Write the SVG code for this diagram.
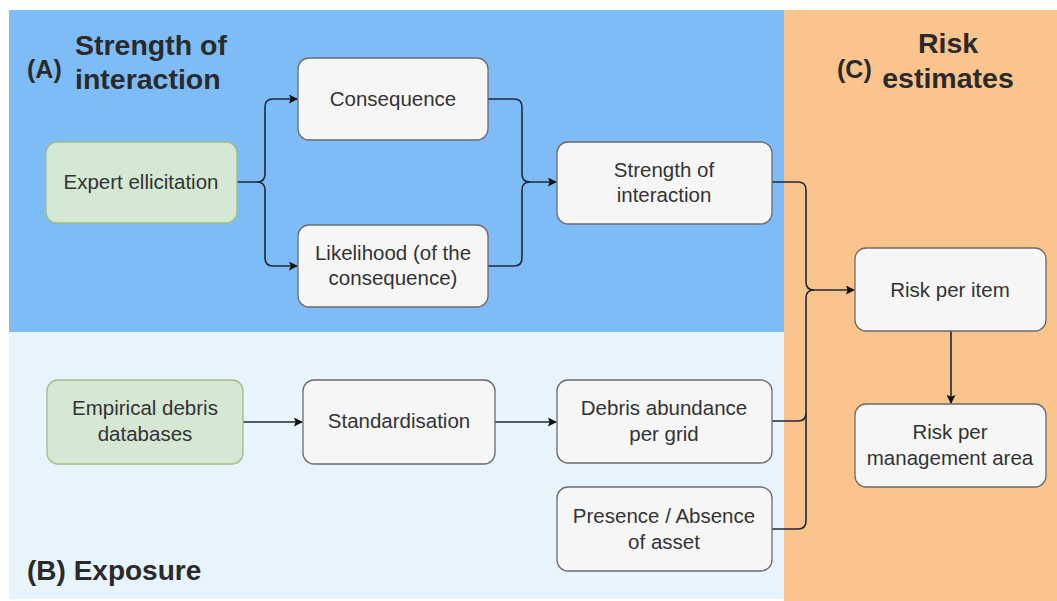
<svg xmlns="http://www.w3.org/2000/svg" width="1057" height="601" viewBox="0 0 1057 601">
<defs>
<style>
.box{fill:#f6f6f6;stroke:#6b6b6b;stroke-width:1.3}
.grn{fill:#d5e8d4;stroke:#9cbf88;stroke-width:1.3}
.t{font-family:"Liberation Sans",Arial,sans-serif;font-size:20.5px;fill:#333;text-anchor:middle}
.h{font-family:"Liberation Sans",Arial,sans-serif;font-weight:bold;fill:#2a2a2a}
.c{fill:none;stroke:#1e2a36;stroke-width:1.6}
</style>
<marker id="ar" viewBox="0 0 10 10" refX="9" refY="5" markerWidth="9" markerHeight="9" markerUnits="userSpaceOnUse" orient="auto">
<path d="M0,0 L10,5 L0,10 L2,5 Z" fill="#111"/>
</marker>
</defs>
<rect width="1057" height="601" fill="#ffffff"/>
<g id="panelA"><rect x="9" y="10" width="775" height="322" fill="#7ebcf8"/></g>
<g id="panelB"><rect x="9" y="332" width="775" height="267" fill="#e7f3fd"/></g>
<g id="panelC"><rect x="784" y="10" width="273" height="591" fill="#fbc48d"/></g>
<g id="titles">
<text class="h" x="27" y="78" font-size="25">(A)</text>
<text class="h" x="75" y="55" font-size="28.5">Strength of</text>
<text class="h" x="75" y="89" font-size="28.5">interaction</text>
<text class="h" x="27" y="580" font-size="28">(B) Exposure</text>
<text class="h" x="837" y="78" font-size="25">(C)</text>
<text class="h" x="948" y="53" font-size="28.5" text-anchor="middle">Risk</text>
<text class="h" x="948" y="88" font-size="28.5" text-anchor="middle">estimates</text>
</g>
<g id="connectors">
<path class="c" d="M237,182 H257 Q265,182 265,174 V107 Q265,99 273,99 H297" marker-end="url(#ar)"/>
<path class="c" d="M257,182 Q265,182 265,190 V258 Q265,266 273,266 H297" marker-end="url(#ar)"/>
<path class="c" d="M488,99 H514 Q522,99 522,107 V174 Q522,182 530,182 H556" marker-end="url(#ar)"/>
<path class="c" d="M488,266 H514 Q522,266 522,258 V190 Q522,182 530,182"/>
<path class="c" d="M772,182 H798 Q806,182 806,190 V282 Q806,290 814,290 H854" marker-end="url(#ar)"/>
<path class="c" d="M772,421 H798 Q806,421 806,413 V298 Q806,290 814,290"/>
<path class="c" d="M772,529 H798 Q806,529 806,521 V413"/>
<path class="c" d="M951,331 V403" marker-end="url(#ar)"/>
<path class="c" d="M243,422 H302" marker-end="url(#ar)"/>
<path class="c" d="M495,422 H556" marker-end="url(#ar)"/>
</g>
<g id="n-expert"><rect class="grn" x="46" y="142" width="191" height="81" rx="11"/><text class="t" x="141" y="189">Expert ellicitation</text></g>
<g id="n-consequence"><rect class="box" x="298" y="58" width="190" height="82" rx="11"/><text class="t" x="393" y="106">Consequence</text></g>
<g id="n-likelihood"><rect class="box" x="298" y="225" width="190" height="82" rx="11"/><text class="t" x="393" y="260">Likelihood (of the</text><text class="t" x="393" y="285">consequence)</text></g>
<g id="n-strength"><rect class="box" x="557" y="142" width="215" height="82" rx="11"/><text class="t" x="664" y="177">Strength of</text><text class="t" x="664" y="202">interaction</text></g>
<g id="n-riskitem"><rect class="box" x="855" y="248" width="191" height="83" rx="11"/><text class="t" x="950" y="297">Risk per item</text></g>
<g id="n-riskarea"><rect class="box" x="855" y="404" width="191" height="83" rx="11"/><text class="t" x="950" y="439">Risk per</text><text class="t" x="950" y="465">management area</text></g>
<g id="n-empirical"><rect class="grn" x="47" y="380" width="196" height="84" rx="11"/><text class="t" x="145" y="415">Empirical debris</text><text class="t" x="145" y="441">databases</text></g>
<g id="n-standard"><rect class="box" x="303" y="380" width="192" height="84" rx="11"/><text class="t" x="399" y="428">Standardisation</text></g>
<g id="n-debris"><rect class="box" x="557" y="380" width="215" height="83" rx="11"/><text class="t" x="664" y="415">Debris abundance</text><text class="t" x="664" y="441">per grid</text></g>
<g id="n-presence"><rect class="box" x="557" y="487" width="215" height="84" rx="11"/><text class="t" x="664" y="523">Presence / Absence</text><text class="t" x="664" y="549">of asset</text></g>
</svg>
